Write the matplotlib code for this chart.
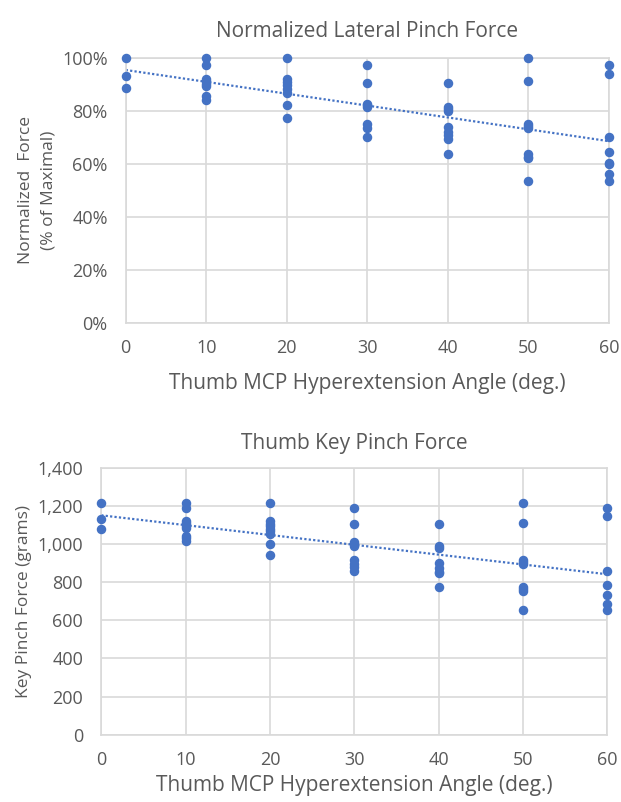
import numpy as np
import matplotlib.pyplot as plt
from matplotlib.ticker import FuncFormatter

plt.rcParams['font.family'] = ['Open Sans', 'DejaVu Sans']

# Normalized lateral pinch force (% of maximal)
norm_angle = [0, 0, 0,
              10, 10, 10, 10, 10, 10, 10, 10,
              20, 20, 20, 20, 20, 20, 20, 20,
              30, 30, 30, 30, 30, 30, 30, 30,
              40, 40, 40, 40, 40, 40, 40, 40, 40,
              50, 50, 50, 50, 50, 50, 50, 50, 50,
              60, 60, 60, 60, 60, 60, 60, 60]
norm_force = [100, 93.1, 88.6,
              100, 97.5, 92.0, 91.3, 90.3, 89.3, 85.6, 84.1,
              100, 92.0, 91.0, 89.8, 88.4, 86.7, 82.1, 77.3,
              97.5, 90.5, 82.8, 82.1, 81.4, 75.0, 73.5, 70.3,
              90.5, 81.6, 80.8, 80.1, 73.9, 71.9, 70.8, 69.6, 63.6,
              100, 91.4, 75.0, 74.2, 73.6, 63.8, 62.8, 62.1, 53.4,
              97.5, 94.1, 70.3, 64.4, 60.5, 60.0, 56.2, 53.4]

# Thumb key pinch force (grams)
key_angle = [0, 0, 0,
             10, 10, 10, 10, 10, 10, 10, 10, 10,
             20, 20, 20, 20, 20, 20, 20, 20, 20,
             30, 30, 30, 30, 30, 30, 30, 30, 30,
             40, 40, 40, 40, 40, 40, 40, 40,
             50, 50, 50, 50, 50, 50, 50, 50, 50,
             60, 60, 60, 60, 60, 60, 60]
key_force = [1216, 1132, 1080,
             1216, 1188, 1122, 1110, 1096, 1083, 1043, 1030, 1018,
             1216, 1122, 1107, 1096, 1080, 1068, 1054, 1000, 942,
             1188, 1104, 1011, 1001, 992, 917, 898, 879, 861,
             1104, 992, 978, 900, 873, 856, 847, 777,
             1216, 1113, 917, 908, 896, 777, 766, 756, 653,
             1188, 1150, 859, 786, 735, 688, 653]

x_ticks = [0, 10, 20, 30, 40, 50, 60]
blue = '#4472C4'
grid = '#D9D9D9'
text = '#595959'


def style(ax):
    ax.set_xlim(0, 60)
    ax.set_xticks(x_ticks)
    ax.grid(True, color=grid, linewidth=1.2)
    ax.set_axisbelow(True)
    for s in ax.spines.values():
        s.set_color(grid)
        s.set_linewidth(1.2)
    ax.tick_params(length=0, colors=text, labelsize=13)
    ax.tick_params(axis='x', pad=12)
    ax.tick_params(axis='y', pad=13)


def trend(ax, x, y):
    k, b = np.polyfit(x, y, 1)
    xs = np.array([0, 60])
    ax.plot(xs, k * xs + b, linestyle=(0, (1, 1)), color=blue, linewidth=1.6)


fig = plt.figure(figsize=(6.21, 8.02), dpi=100)

# Top chart
ax1 = fig.add_axes([0.2024, 0.5976, 0.778, 0.33])
style(ax1)
ax1.set_ylim(0, 100)
ax1.set_yticks([0, 20, 40, 60, 80, 100])
ax1.yaxis.set_major_formatter(FuncFormatter(lambda v, p: f'{v:.0f}%'))
ax1.scatter(norm_angle, norm_force, s=34, color=blue, zorder=3, clip_on=False)
trend(ax1, norm_angle, norm_force)
ax1.set_title('Normalized Lateral Pinch Force', color=text, fontsize=15, pad=15)
ax1.set_xlabel('Thumb MCP Hyperextension Angle (deg.)', color=text, fontsize=15, labelpad=11)
ax1.set_ylabel('Normalized  Force\n(% of Maximal)', color=text, fontsize=12.5,
               labelpad=4, linespacing=1.5)

# Bottom chart
ax2 = fig.add_axes([0.163, 0.0839, 0.815, 0.3326])
style(ax2)
ax2.set_ylim(0, 1400)
ax2.set_yticks(range(0, 1401, 200))
ax2.yaxis.set_major_formatter(FuncFormatter(lambda v, p: f'{v:,.0f}'))
ax2.scatter(key_angle, key_force, s=34, color=blue, zorder=3, clip_on=False)
trend(ax2, key_angle, key_force)
ax2.set_title('Thumb Key Pinch Force', color=text, fontsize=15, pad=14)
ax2.set_xlabel('Thumb MCP Hyperextension Angle (deg.)', color=text, fontsize=15, labelpad=4)
ax2.set_ylabel('Key Pinch Force (grams)', color=text, fontsize=12.5, labelpad=4)

fig.savefig('out.png', dpi=100)
